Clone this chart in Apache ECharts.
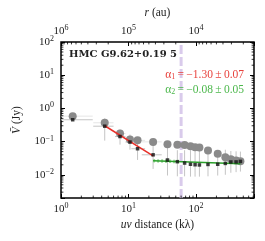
<!DOCTYPE html>
<html><head><meta charset="utf-8">
<script src="https://cdn.jsdelivr.net/npm/echarts@6/dist/echarts.min.js"></script>
<style>html,body{margin:0;padding:0;background:#fff}#c{width:265px;height:241px}</style>
</head><body><div id="c"></div>
<script>
// ---- data ----
const uv      = [1.49, 4.44, 7.48, 10.5, 13.6, 23.1, 37.7, 52.8, 67.6, 82.6, 96.6, 112, 150, 209, 271, 327, 391, 453];
const binLo   = [1.0, 3.0, 6.3, 9.0, 11.0, 15.7, 37.7, 52.8, 67.6, 82.6, 96.6, 112, 150, 209, 271, 327, 391, 453];
const binHi   = [2.95, 6.0, 9.0, 12.0, 17.6, 31.0, 37.7, 52.8, 67.6, 82.6, 96.6, 112, 150, 209, 271, 327, 391, 453];
const grayV   = [0.585, 0.369, 0.175, 0.115, 0.109, 0.098, 0.083, 0.081, 0.079, 0.073, 0.068, 0.066, 0.054, 0.043, 0.034, 0.0295, 0.0271, 0.0256];
const blackV  = [0.455, 0.291, 0.142, 0.097, 0.061, 0.040, 0.0279, 0.0248, 0.0226, 0.0208, 0.0201, 0.0198, 0.0205, 0.0208, 0.022, 0.0243, 0.0244, 0.0253];
const blackLo = [0.42, 0.107, 0.081, 0.057, 0.028, 0.015, 0.0095, 0.009, 0.009, 0.0088, 0.0088, 0.0088, 0.009, 0.0095, 0.0100, 0.0115, 0.0120, 0.0125];
const blackHi = [0.49, 0.50, 0.23, 0.163, 0.10, 0.080, 0.065, 0.055, 0.055, 0.055, 0.055, 0.055, 0.055, 0.055, 0.057, 0.052, 0.051, 0.050];
const fit1 = [[4.44, 0.30], [23.1, 0.037]];
const fit2 = [[23.1, 0.0265], [453, 0.0215]];
const fit2band = [[23.1, 0.0265], [55, 0.0250]];
const vline = 60;               // kλ, dashed marker
const auFactor = 1e6;           // r(au) = auFactor / uv
const xMin = 1, xMax = 720, yMin = 0.002, yMax = 100;
const title = 'HMC G9.62+0.19 5';
const alpha1 = '\u2009=\u2009−1.30\u2009±\u20090.07', alpha2 = '\u2009=\u2009−0.08\u2009±\u20090.05';

const FONT = 'Liberation Serif';
const INK = '#222';
const RED = '#e8413c', GREEN = '#4cb84c';
function pow10(v){
  const l = Math.log10(v), r = Math.round(l);
  if (Math.abs(l - r) > 1e-6) return '';
  return '{b|10}{s|' + (r < 0 ? '−' + (-r) : r) + '}';
}
const richTick = { b:{fontFamily:FONT,fontSize:11,color:INK}, s:{fontFamily:FONT,fontSize:8,color:INK,padding:[0,0,6,0]} };

function minorVals(lo, hi){
  const out=[];
  for(let e=Math.floor(Math.log10(lo)); e<=Math.ceil(Math.log10(hi)); e++)
    for(let m=2;m<=9;m++){ const v=m*Math.pow(10,e); if(v>lo && v<hi) out.push(v); }
  return out;
}

const errData = uv.map((x,i)=>[x, blackV[i], binLo[i], binHi[i], blackLo[i], blackHi[i]]);
const grayErr = uv.map((x,i)=>[x, grayV[i], binLo[i], binHi[i]]);

const nameStyle = {fontFamily:FONT,fontSize:11.5,color:INK, rich:{i:{fontFamily:FONT,fontStyle:'italic',fontSize:11.5,color:INK}}};
const chart = echarts.init(document.getElementById('c'), null, {renderer:'canvas'});
const tickLen = 4, minorLen = 2.4;
chart.setOption({
  animation:false,
  grid:{left:61, right:11, top:42, bottom:43, show:true, borderColor:'#000', borderWidth:1.5, backgroundColor:'transparent'},
  xAxis:[
    {type:'log', logBase:10, min:xMin, max:xMax, position:'bottom',
     axisLine:{show:false}, splitLine:{show:false},
     axisTick:{inside:true, length:tickLen, lineStyle:{color:'#000',width:1}},
     axisLabel:{formatter:pow10, rich:richTick, margin:4},
     name:'{i|uv} distance (kλ)', nameLocation:'middle', nameGap:20, nameTextStyle:nameStyle},
    {type:'log', logBase:10, min:auFactor/xMax, max:auFactor/xMin, inverse:true, position:'top',
     axisLine:{show:false}, splitLine:{show:false},
     axisTick:{inside:true, length:tickLen, lineStyle:{color:'#000',width:1}},
     axisLabel:{formatter:pow10, rich:richTick, margin:4},
     name:'{i|r} (au)', nameLocation:'middle', nameGap:23, nameTextStyle:nameStyle}
  ],
  yAxis:[
    {type:'log', logBase:10, min:yMin, max:yMax, position:'left',
     axisLine:{show:false}, splitLine:{show:false},
     axisTick:{inside:true, length:tickLen, lineStyle:{color:'#000',width:1}},
     axisLabel:{formatter:pow10, rich:richTick, margin:7},
     name:'{i|V̄} (Jy)', nameLocation:'middle', nameGap:38, nameTextStyle:nameStyle},
    {type:'log', logBase:10, min:yMin, max:yMax, position:'right',
     axisLine:{show:false}, splitLine:{show:false},
     axisTick:{inside:true, length:tickLen, lineStyle:{color:'#000',width:1}},
     axisLabel:{show:false}}
  ],
  series:[
    {type:'line', data:[[vline,yMin],[vline,yMax]], showSymbol:false, silent:true, z:1,
     lineStyle:{color:'#d9cbeb', width:3, type:[9,3]}},
    {type:'custom', silent:true, z:2, data:grayErr, renderItem:(p,api)=>{
      const a=api.coord([api.value(2),api.value(1)]), b=api.coord([api.value(3),api.value(1)]);
      return {type:'line', shape:{x1:a[0],y1:a[1],x2:b[0],y2:b[1]}, style:{stroke:'#e6e6e6',lineWidth:1}};
    }},
    {type:'custom', silent:true, z:2, data:errData, renderItem:(p,api)=>{
      const x=api.value(0), y=api.value(1);
      const a=api.coord([api.value(2),y]), b=api.coord([api.value(3),y]);
      const c=api.coord([x,api.value(4)]), d=api.coord([x,api.value(5)]);
      return {type:'group', children:[
        {type:'line', shape:{x1:a[0],y1:a[1],x2:b[0],y2:b[1]}, style:{stroke:'#c4c4c4',lineWidth:1}},
        {type:'line', shape:{x1:c[0],y1:c[1],x2:d[0],y2:d[1]}, style:{stroke:'#c4c4c4',lineWidth:1}}
      ]};
    }},
    {type:'scatter', data:uv.map((x,i)=>[x,grayV[i]]), symbol:'circle', symbolSize:8, z:3, silent:true,
     itemStyle:{color:'#8a8a8a', opacity:1}},
    {type:'line', data:fit2band, showSymbol:false, silent:true, z:4, lineStyle:{color:'#9ed89e', width:3.5, type:[2,2]}},
    {type:'line', data:fit2, showSymbol:false, silent:true, z:4, lineStyle:{color:'#2ca02c', width:1.5}},
    {type:'line', data:fit1, showSymbol:false, silent:true, z:4, lineStyle:{color:'#e8302a', width:1.5}},
    {type:'scatter', data:uv.map((x,i)=>[x,blackV[i]]), symbol:'rect', symbolSize:3.5, z:5, silent:true,
     itemStyle:{color:'#111'}},
    // minor ticks (bottom x)
    {type:'custom', silent:true, z:6, data:minorVals(xMin,xMax).map(v=>[v,1]), renderItem:(p,api)=>{
      const cs=p.coordSys, x=api.coord([api.value(0),1])[0], yb=cs.y+cs.height;
      return {type:'line', shape:{x1:x,y1:yb,x2:x,y2:yb-minorLen}, style:{stroke:'#000',lineWidth:0.8}};
    }},
    // minor ticks (top r axis)
    {type:'custom', xAxisIndex:1, silent:true, z:6, data:minorVals(auFactor/xMax,auFactor/xMin).map(v=>[v,1]), renderItem:(p,api)=>{
      const cs=p.coordSys, x=api.coord([api.value(0),1])[0];
      return {type:'line', shape:{x1:x,y1:cs.y,x2:x,y2:cs.y+minorLen}, style:{stroke:'#000',lineWidth:0.8}};
    }},
    // minor ticks (left & right y)
    {type:'custom', silent:true, z:6, data:minorVals(yMin,yMax).map(v=>[1,v]), renderItem:(p,api)=>{
      const cs=p.coordSys, y=api.coord([1,api.value(1)])[1];
      return {type:'group', children:[
        {type:'line', shape:{x1:cs.x,y1:y,x2:cs.x+minorLen,y2:y}, style:{stroke:'#000',lineWidth:0.8}},
        {type:'line', shape:{x1:cs.x+cs.width,y1:y,x2:cs.x+cs.width-minorLen,y2:y}, style:{stroke:'#000',lineWidth:0.8}}
      ]};
    }}
  ],
  graphic:[
    {type:'text', left:69, top:49, z:10, style:{text:title, fontFamily:'DejaVu Serif', fontWeight:'bold', fontSize:10, fill:INK}},
    {type:'text', right:21, top:69, z:10, style:{text:'{a|α}{s|1}{a|'+alpha1+'}', fill:RED, rich:{
      a:{fontFamily:FONT,fontSize:11.5,fill:RED,padding:[0,0,3,0]}, s:{fontFamily:FONT,fontSize:8,fill:RED}}}},
    {type:'text', right:21, top:84, z:10, style:{text:'{a|α}{s|2}{a|'+alpha2+'}', fill:GREEN, rich:{
      a:{fontFamily:FONT,fontSize:11.5,fill:GREEN,padding:[0,0,3,0]}, s:{fontFamily:FONT,fontSize:8,fill:GREEN}}}}
  ]
});
</script></body></html>
